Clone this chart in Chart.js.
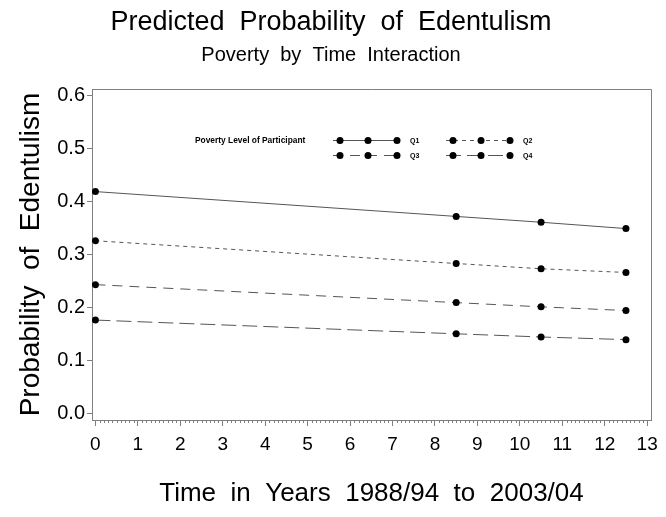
<!DOCTYPE html>
<html>
<head>
<meta charset="utf-8">
<script src="https://cdn.jsdelivr.net/npm/chart.js@4.4.0/dist/chart.umd.min.js"></script>
<style>
  html, body { margin: 0; padding: 0; background: #fff; }
  #wrap { width: 666px; height: 517px; }
</style>
</head>
<body>
<div id="wrap"><canvas id="edentChart"></canvas></div>
<script>
// data
const years = [0, 8.5, 10.5, 12.5];
const q1 = [0.419, 0.372, 0.361, 0.349];
const q2 = [0.326, 0.283, 0.273, 0.266];
const q3 = [0.243, 0.209, 0.201, 0.194];
const q4 = [0.176, 0.150, 0.144, 0.139];
const seriesNames = ['Q1', 'Q2', 'Q3', 'Q4'];
const xTicks = [0, 1, 2, 3, 4, 5, 6, 7, 8, 9, 10, 11, 12, 13];
const yTicks = [0.0, 0.1, 0.2, 0.3, 0.4, 0.5, 0.6];

const FONT = '"Liberation Sans", Arial, sans-serif';
const AXIS_GRAY = '#7f7f7f';
const dashes = [[], [4, 4], [10, 7], [15, 6]];

const ctx1 = document.getElementById('edentChart');

function makeSet(label, values, dash) {
  return {
    label: label,
    data: values.map((v, i) => ({ x: years[i], y: v })),
    borderColor: '#555555',
    borderWidth: 1,
    borderDash: dash,
    pointRadius: 3.5,
    pointHoverRadius: 3.5,
    pointBackgroundColor: '#000',
    pointBorderColor: '#000',
    pointBorderWidth: 0,
    tension: 0,
    fill: false,
  };
}

// titles, frame, minor ticks and the SAS-style legend
const extras = {
  id: 'extras',
  afterDraw(chart) {
    const { ctx, chartArea: { left, right, top, bottom } } = chart;
    const xs = chart.scales.x;
    ctx.save();

    // top and right of the frame
    ctx.strokeStyle = AXIS_GRAY;
    ctx.lineWidth = 1;
    ctx.beginPath();
    ctx.moveTo(left, top + 0.5);
    ctx.lineTo(right + 0.5, top + 0.5);
    ctx.lineTo(right + 0.5, bottom);
    ctx.stroke();

    // minor ticks on x
    ctx.beginPath();
    for (let i = 0; i < 130; i++) {
      if (i % 10 === 0) continue;
      const px = Math.round(xs.getPixelForValue(i / 10)) + 0.5;
      ctx.moveTo(px, bottom);
      ctx.lineTo(px, bottom + 3);
    }
    ctx.stroke();

    // titles
    ctx.fillStyle = '#000';
    ctx.textAlign = 'center';
    ctx.textBaseline = 'middle';
    ctx.font = '27px ' + FONT;
    ctx.fillText('Predicted  Probability  of  Edentulism', 331, 23);
    ctx.font = '20px ' + FONT;
    ctx.fillText('Poverty  by  Time  Interaction', 331, 55);

    // legend
    ctx.textAlign = 'left';
    ctx.font = 'bold 8.4px ' + FONT;
    ctx.fillText('Poverty Level of Participant', 195, 141);
    const cols = [333, 446];
    const rows = [140, 155];
    chart.data.datasets.forEach((ds, i) => {
      const x0 = cols[i % 2];
      const y0 = rows[Math.floor(i / 2)];
      ctx.strokeStyle = '#555';
      ctx.lineWidth = 1;
      ctx.setLineDash(ds.borderDash);
      ctx.beginPath();
      ctx.moveTo(x0, y0 + 0.5);
      ctx.lineTo(x0 + 65, y0 + 0.5);
      ctx.stroke();
      ctx.setLineDash([]);
      ctx.fillStyle = '#000';
      [7, 35, 64].forEach(dx => {
        ctx.beginPath();
        ctx.arc(x0 + dx, y0 + 0.5, 3.5, 0, Math.PI * 2);
        ctx.fill();
      });
      ctx.font = 'bold 7px ' + FONT;
      ctx.fillText(ds.label, x0 + 77, y0 + 1);
    });
    ctx.restore();
  }
};

new Chart(ctx1, {
  type: 'line',
  data: {
    datasets: [
      makeSet(seriesNames[0], q1, dashes[0]),
      makeSet(seriesNames[1], q2, dashes[1]),
      makeSet(seriesNames[2], q3, dashes[2]),
      makeSet(seriesNames[3], q4, dashes[3]),
    ]
  },
  options: {
    responsive: true,
    maintainAspectRatio: false,
    animation: false,
    events: [],
    layout: { padding: { top: 89, right: 15, bottom: 0, left: 0 } },
    plugins: {
      legend: { display: false },
      tooltip: { enabled: false },
    },
    scales: {
      x: {
        type: 'linear',
        min: -0.08,
        max: 13.09,
        afterBuildTicks: (s) => { s.ticks = xTicks.map(v => ({ value: v })); },
        afterFit: (s) => { s.height = 97; },
        ticks: {
          color: '#000',
          font: { family: FONT, size: 19 },
          padding: 7,
          maxRotation: 0,
          autoSkip: false,
          callback: (v) => String(v),
        },
        grid: { drawOnChartArea: false, drawTicks: true, tickLength: 6, color: AXIS_GRAY },
        border: { display: true, color: AXIS_GRAY },
        title: {
          display: true,
          text: 'Time  in  Years  1988/94  to  2003/04',
          color: '#000',
          font: { family: FONT, size: 26 },
          padding: { top: 0, bottom: 8 },
        },
      },
      y: {
        type: 'linear',
        min: -0.013,
        max: 0.613,
        afterBuildTicks: (s) => { s.ticks = yTicks.map(v => ({ value: v })); },
        afterFit: (s) => { s.width = 92; },
        ticks: {
          color: '#000',
          font: { family: FONT, size: 20 },
          padding: 2,
          callback: (v) => Number(v).toFixed(1),
        },
        grid: { drawOnChartArea: false, drawTicks: true, tickLength: 5, color: AXIS_GRAY },
        border: { display: true, color: AXIS_GRAY },
        title: {
          display: true,
          text: 'Probability  of  Edentulism',
          color: '#000',
          font: { family: FONT, size: 28 },
          padding: { top: 14, bottom: 0 },
        },
      }
    }
  },
  plugins: [extras]
});
</script>
</body>
</html>
